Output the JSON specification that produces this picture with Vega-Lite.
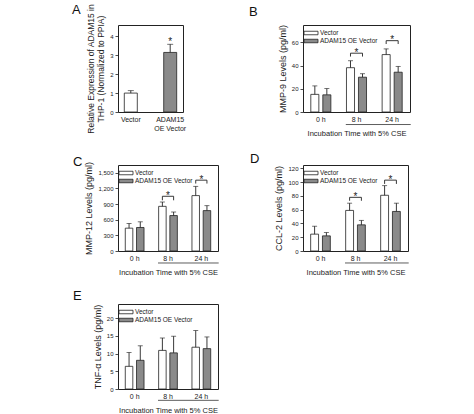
{
  "$schema": "https://vega.github.io/schema/vega-lite/v6.json",
  "padding": {"left": 71, "top": 3, "right": 5, "bottom": 3},
  "bounds": "flush",
  "columns": 2,
  "spacing": {"row": 53, "column": 85},
  "resolve": {"scale": {"fill": "independent", "x": "independent", "y": "independent", "xOffset": "independent"}, "legend": {"fill": "independent"}},
  "datasets": {
    "bars": [
      {"p": "A", "t": "Vector", "g": "Vector", "m": 1.0, "u": 1.13},
      {"p": "A", "t": "ADAM15 OE Vector", "g": "ADAM15 OE Vector", "m": 3.15, "u": 3.58},
      {"p": "B", "t": "0 h", "g": "Vector", "m": 15.2, "u": 22.5},
      {"p": "B", "t": "0 h", "g": "ADAM15 OE Vector", "m": 14.8, "u": 20.2},
      {"p": "B", "t": "8 h", "g": "Vector", "m": 38.2, "u": 44.2},
      {"p": "B", "t": "8 h", "g": "ADAM15 OE Vector", "m": 30.0, "u": 33.0},
      {"p": "B", "t": "24 h", "g": "Vector", "m": 49.5, "u": 54.4},
      {"p": "B", "t": "24 h", "g": "ADAM15 OE Vector", "m": 34.3, "u": 39.3},
      {"p": "C", "t": "0 h", "g": "Vector", "m": 438, "u": 528},
      {"p": "C", "t": "0 h", "g": "ADAM15 OE Vector", "m": 451, "u": 560},
      {"p": "C", "t": "8 h", "g": "Vector", "m": 857, "u": 940},
      {"p": "C", "t": "8 h", "g": "ADAM15 OE Vector", "m": 680, "u": 748},
      {"p": "C", "t": "24 h", "g": "Vector", "m": 1063, "u": 1240},
      {"p": "C", "t": "24 h", "g": "ADAM15 OE Vector", "m": 775, "u": 870},
      {"p": "D", "t": "0 h", "g": "Vector", "m": 24.5, "u": 36},
      {"p": "D", "t": "0 h", "g": "ADAM15 OE Vector", "m": 22, "u": 26.8},
      {"p": "D", "t": "8 h", "g": "Vector", "m": 59, "u": 69.5},
      {"p": "D", "t": "8 h", "g": "ADAM15 OE Vector", "m": 38, "u": 44.5},
      {"p": "D", "t": "24 h", "g": "Vector", "m": 81, "u": 95},
      {"p": "D", "t": "24 h", "g": "ADAM15 OE Vector", "m": 57.5, "u": 69.5},
      {"p": "E", "t": "0 h", "g": "Vector", "m": 6.4, "u": 10.3},
      {"p": "E", "t": "0 h", "g": "ADAM15 OE Vector", "m": 8.1, "u": 12.2},
      {"p": "E", "t": "8 h", "g": "Vector", "m": 10.9, "u": 14.4},
      {"p": "E", "t": "8 h", "g": "ADAM15 OE Vector", "m": 10.2, "u": 14.9},
      {"p": "E", "t": "24 h", "g": "Vector", "m": 11.8, "u": 16.5},
      {"p": "E", "t": "24 h", "g": "ADAM15 OE Vector", "m": 11.4, "u": 14.7}
    ],
    "brackets": [
      {"p": "B", "t": "8 h", "g": "Vector", "y": 47.8, "k": 0},
      {"p": "B", "t": "8 h", "g": "Vector", "y": 50.7, "k": 1},
      {"p": "B", "t": "8 h", "g": "ADAM15 OE Vector", "y": 50.7, "k": 2},
      {"p": "B", "t": "8 h", "g": "ADAM15 OE Vector", "y": 47.8, "k": 3},
      {"p": "B", "t": "24 h", "g": "Vector", "y": 58.6, "k": 0},
      {"p": "B", "t": "24 h", "g": "Vector", "y": 61.5, "k": 1},
      {"p": "B", "t": "24 h", "g": "ADAM15 OE Vector", "y": 61.5, "k": 2},
      {"p": "B", "t": "24 h", "g": "ADAM15 OE Vector", "y": 58.6, "k": 3},
      {"p": "C", "t": "8 h", "g": "Vector", "y": 973, "k": 0},
      {"p": "C", "t": "8 h", "g": "Vector", "y": 1050, "k": 1},
      {"p": "C", "t": "8 h", "g": "ADAM15 OE Vector", "y": 1050, "k": 2},
      {"p": "C", "t": "8 h", "g": "ADAM15 OE Vector", "y": 973, "k": 3},
      {"p": "C", "t": "24 h", "g": "Vector", "y": 1294, "k": 0},
      {"p": "C", "t": "24 h", "g": "Vector", "y": 1359, "k": 1},
      {"p": "C", "t": "24 h", "g": "ADAM15 OE Vector", "y": 1359, "k": 2},
      {"p": "C", "t": "24 h", "g": "ADAM15 OE Vector", "y": 1294, "k": 3},
      {"p": "D", "t": "8 h", "g": "Vector", "y": 73, "k": 0},
      {"p": "D", "t": "8 h", "g": "Vector", "y": 78, "k": 1},
      {"p": "D", "t": "8 h", "g": "ADAM15 OE Vector", "y": 78, "k": 2},
      {"p": "D", "t": "8 h", "g": "ADAM15 OE Vector", "y": 73, "k": 3},
      {"p": "D", "t": "24 h", "g": "Vector", "y": 97.5, "k": 0},
      {"p": "D", "t": "24 h", "g": "Vector", "y": 103, "k": 1},
      {"p": "D", "t": "24 h", "g": "ADAM15 OE Vector", "y": 103, "k": 2},
      {"p": "D", "t": "24 h", "g": "ADAM15 OE Vector", "y": 97.5, "k": 3}
    ],
    "stars": [
      {"p": "A", "t": "ADAM15 OE Vector", "y": 3.7},
      {"p": "B", "t": "8 h", "y": 50.7},
      {"p": "B", "t": "24 h", "y": 61.5},
      {"p": "C", "t": "8 h", "y": 1050},
      {"p": "C", "t": "24 h", "y": 1359},
      {"p": "D", "t": "8 h", "y": 78},
      {"p": "D", "t": "24 h", "y": 103}
    ]
  },
  "concat": [
    {
      "title": {"text": "A", "dx": -46, "offset": -13},
      "width": 65, "height": 87,
      "layer": [
        {"data": {"name": "bars"}, "transform": [{"filter": "datum.p == 'A'"}],
         "mark": {"type": "bar", "stroke": "#222", "strokeWidth": 0.8},
         "encoding": {
           "x": {"field": "t", "type": "nominal", "title": null, "scale": {"domain": ["Vector", "ADAM15 OE Vector"], "paddingInner": 0.67, "paddingOuter": 0.16},
                 "axis": {"labelExpr": "datum.value == 'ADAM15 OE Vector' ? ['ADAM15', 'OE Vector'] : datum.value", "labelLineHeight": 9}},
           "y": {"field": "m", "type": "quantitative", "title": ["Relative Expression of ADAM15 in", "THP-1 (Normalized to PPIA)"], "scale": {"domain": [0, 4.6], "nice": false},
                 "axis": {"values": [0, 1, 2, 3, 4], "labelOverlap": false, "titleFontSize": 8.5, "titleLineHeight": 10}},
           "fill": {"field": "g", "type": "nominal", "scale": {"domain": ["Vector", "ADAM15 OE Vector"], "range": ["#ffffff", "#8a8a8a"]}, "legend": null}
         }},
        {"data": {"name": "bars"}, "transform": [{"filter": "datum.p == 'A'"}],
         "mark": {"type": "rule", "stroke": "#222", "strokeWidth": 0.9},
         "encoding": {
           "x": {"field": "t", "type": "nominal", "title": null, "axis": {"labelExpr": "datum.value == 'ADAM15 OE Vector' ? ['ADAM15', 'OE Vector'] : datum.value", "labelLineHeight": 9}},
           "y": {"field": "m", "type": "quantitative", "title": ["Relative Expression of ADAM15 in", "THP-1 (Normalized to PPIA)"], "axis": {"values": [0, 1, 2, 3, 4], "labelOverlap": false, "titleFontSize": 8.5, "titleLineHeight": 10}},
           "y2": {"field": "u"}
         }},
        {"data": {"name": "bars"}, "transform": [{"filter": "datum.p == 'A'"}],
         "mark": {"type": "tick", "color": "#222", "size": 6, "thickness": 0.9},
         "encoding": {
           "x": {"field": "t", "type": "nominal", "title": null, "axis": {"labelExpr": "datum.value == 'ADAM15 OE Vector' ? ['ADAM15', 'OE Vector'] : datum.value", "labelLineHeight": 9}},
           "y": {"field": "u", "type": "quantitative", "title": ["Relative Expression of ADAM15 in", "THP-1 (Normalized to PPIA)"], "axis": {"values": [0, 1, 2, 3, 4], "labelOverlap": false, "titleFontSize": 8.5, "titleLineHeight": 10}}
         }},
        {"data": {"name": "stars"}, "transform": [{"filter": "datum.p == 'A'"}],
         "mark": {"type": "text", "text": "*", "fontSize": 10, "baseline": "alphabetic", "dy": 2.5, "color": "#222"},
         "encoding": {
           "x": {"field": "t", "type": "nominal", "title": null, "axis": {"labelExpr": "datum.value == 'ADAM15 OE Vector' ? ['ADAM15', 'OE Vector'] : datum.value", "labelLineHeight": 9}},
           "y": {"field": "y", "type": "quantitative", "title": ["Relative Expression of ADAM15 in", "THP-1 (Normalized to PPIA)"], "axis": {"values": [0, 1, 2, 3, 4], "labelOverlap": false, "titleFontSize": 8.5, "titleLineHeight": 10}}
         }}
      ]
    },
    {
      "title": {"text": "B", "dx": -54, "offset": 5},
      "width": 107, "height": 87,
      "layer": [
        {"data": {"name": "bars"}, "transform": [{"filter": "datum.p == 'B'"}],
         "mark": {"type": "bar", "stroke": "#222", "strokeWidth": 0.8},
         "encoding": {
           "x": {"field": "t", "type": "nominal", "title": "Incubation Time with 5% CSE", "scale": {"domain": ["0 h", "8 h", "24 h"], "paddingInner": 0, "paddingOuter": 0}},
           "xOffset": {"field": "g", "type": "nominal", "scale": {"domain": ["Vector", "ADAM15 OE Vector"], "paddingInner": 0.33, "paddingOuter": 0.65}},
           "y": {"field": "m", "type": "quantitative", "title": "MMP-9 Levels (pg/ml)", "scale": {"domain": [0, 75], "nice": false}, "axis": {"values": [0, 20, 40, 60], "labelOverlap": false}},
           "fill": {"field": "g", "type": "nominal", "title": null, "scale": {"domain": ["Vector", "ADAM15 OE Vector"], "range": ["#ffffff", "#8a8a8a"]}}
         }},
        {"data": {"name": "bars"}, "transform": [{"filter": "datum.p == 'B'"}],
         "mark": {"type": "rule", "stroke": "#222", "strokeWidth": 0.9},
         "encoding": {
           "x": {"field": "t", "type": "nominal", "title": "Incubation Time with 5% CSE"},
           "xOffset": {"field": "g", "type": "nominal"},
           "y": {"field": "m", "type": "quantitative", "title": "MMP-9 Levels (pg/ml)", "axis": {"values": [0, 20, 40, 60], "labelOverlap": false}},
           "y2": {"field": "u"}
         }},
        {"data": {"name": "bars"}, "transform": [{"filter": "datum.p == 'B'"}],
         "mark": {"type": "tick", "color": "#222", "size": 5, "thickness": 0.9},
         "encoding": {
           "x": {"field": "t", "type": "nominal", "title": "Incubation Time with 5% CSE"},
           "xOffset": {"field": "g", "type": "nominal"},
           "y": {"field": "u", "type": "quantitative", "title": "MMP-9 Levels (pg/ml)", "axis": {"values": [0, 20, 40, 60], "labelOverlap": false}}
         }},
        {"data": {"name": "brackets"}, "transform": [{"filter": "datum.p == 'B'"}],
         "mark": {"type": "line", "color": "#222", "strokeWidth": 0.9},
         "encoding": {
           "x": {"field": "t", "type": "nominal", "title": "Incubation Time with 5% CSE"},
           "xOffset": {"field": "g", "type": "nominal"},
           "y": {"field": "y", "type": "quantitative", "title": "MMP-9 Levels (pg/ml)", "axis": {"values": [0, 20, 40, 60], "labelOverlap": false}},
           "order": {"field": "k"},
           "detail": {"field": "t"}
         }},
        {"data": {"name": "stars"}, "transform": [{"filter": "datum.p == 'B'"}],
         "mark": {"type": "text", "text": "*", "fontSize": 10, "baseline": "alphabetic", "dy": 2.5, "color": "#222"},
         "encoding": {
           "x": {"field": "t", "type": "nominal", "title": "Incubation Time with 5% CSE"},
           "y": {"field": "y", "type": "quantitative", "title": "MMP-9 Levels (pg/ml)", "axis": {"values": [0, 20, 40, 60], "labelOverlap": false}}
         }},
        {"data": {"values": [{}]},
         "mark": {"type": "rule", "stroke": "#333", "strokeWidth": 0.8},
         "encoding": {
           "x": {"datum": "8 h", "bandPosition": 0.2, "title": "Incubation Time with 5% CSE"},
           "x2": {"datum": "24 h", "bandPosition": 1.02},
           "y": {"datum": -10.8, "title": "MMP-9 Levels (pg/ml)", "axis": {"values": [0, 20, 40, 60], "labelOverlap": false}}
         }}
      ]
    },
    {
      "title": {"text": "C", "dx": -45, "offset": -8},
      "width": 100, "height": 86,
      "layer": [
        {"data": {"name": "bars"}, "transform": [{"filter": "datum.p == 'C'"}],
         "mark": {"type": "bar", "stroke": "#222", "strokeWidth": 0.8},
         "encoding": {
           "x": {"field": "t", "type": "nominal", "title": "Incubation Time with 5% CSE", "scale": {"domain": ["0 h", "8 h", "24 h"], "paddingInner": 0, "paddingOuter": 0}},
           "xOffset": {"field": "g", "type": "nominal", "scale": {"domain": ["Vector", "ADAM15 OE Vector"], "paddingInner": 0.33, "paddingOuter": 0.65}},
           "y": {"field": "m", "type": "quantitative", "title": "MMP-12 Levels (pg/ml)", "scale": {"domain": [0, 1650], "nice": false}, "axis": {"values": [0, 300, 600, 900, 1200, 1500], "labelOverlap": false}},
           "fill": {"field": "g", "type": "nominal", "title": null, "scale": {"domain": ["Vector", "ADAM15 OE Vector"], "range": ["#ffffff", "#8a8a8a"]}}
         }},
        {"data": {"name": "bars"}, "transform": [{"filter": "datum.p == 'C'"}],
         "mark": {"type": "rule", "stroke": "#222", "strokeWidth": 0.9},
         "encoding": {
           "x": {"field": "t", "type": "nominal", "title": "Incubation Time with 5% CSE"},
           "xOffset": {"field": "g", "type": "nominal"},
           "y": {"field": "m", "type": "quantitative", "title": "MMP-12 Levels (pg/ml)", "axis": {"values": [0, 300, 600, 900, 1200, 1500], "labelOverlap": false}},
           "y2": {"field": "u"}
         }},
        {"data": {"name": "bars"}, "transform": [{"filter": "datum.p == 'C'"}],
         "mark": {"type": "tick", "color": "#222", "size": 5, "thickness": 0.9},
         "encoding": {
           "x": {"field": "t", "type": "nominal", "title": "Incubation Time with 5% CSE"},
           "xOffset": {"field": "g", "type": "nominal"},
           "y": {"field": "u", "type": "quantitative", "title": "MMP-12 Levels (pg/ml)", "axis": {"values": [0, 300, 600, 900, 1200, 1500], "labelOverlap": false}}
         }},
        {"data": {"name": "brackets"}, "transform": [{"filter": "datum.p == 'C'"}],
         "mark": {"type": "line", "color": "#222", "strokeWidth": 0.9},
         "encoding": {
           "x": {"field": "t", "type": "nominal", "title": "Incubation Time with 5% CSE"},
           "xOffset": {"field": "g", "type": "nominal"},
           "y": {"field": "y", "type": "quantitative", "title": "MMP-12 Levels (pg/ml)", "axis": {"values": [0, 300, 600, 900, 1200, 1500], "labelOverlap": false}},
           "order": {"field": "k"},
           "detail": {"field": "t"}
         }},
        {"data": {"name": "stars"}, "transform": [{"filter": "datum.p == 'C'"}],
         "mark": {"type": "text", "text": "*", "fontSize": 10, "baseline": "alphabetic", "dy": 2.5, "color": "#222"},
         "encoding": {
           "x": {"field": "t", "type": "nominal", "title": "Incubation Time with 5% CSE"},
           "y": {"field": "y", "type": "quantitative", "title": "MMP-12 Levels (pg/ml)", "axis": {"values": [0, 300, 600, 900, 1200, 1500], "labelOverlap": false}}
         }},
        {"data": {"values": [{}]},
         "mark": {"type": "rule", "stroke": "#333", "strokeWidth": 0.8},
         "encoding": {
           "x": {"datum": "8 h", "bandPosition": 0.2, "title": "Incubation Time with 5% CSE"},
           "x2": {"datum": "24 h", "bandPosition": 1.02},
           "y": {"datum": -230, "title": "MMP-12 Levels (pg/ml)", "axis": {"values": [0, 300, 600, 900, 1200, 1500], "labelOverlap": false}}
         }}
      ]
    },
    {
      "title": {"text": "D", "dx": -53, "offset": -1},
      "width": 105, "height": 86,
      "layer": [
        {"data": {"name": "bars"}, "transform": [{"filter": "datum.p == 'D'"}],
         "mark": {"type": "bar", "stroke": "#222", "strokeWidth": 0.8},
         "encoding": {
           "x": {"field": "t", "type": "nominal", "title": "Incubation Time with 5% CSE", "scale": {"domain": ["0 h", "8 h", "24 h"], "paddingInner": 0, "paddingOuter": 0}},
           "xOffset": {"field": "g", "type": "nominal", "scale": {"domain": ["Vector", "ADAM15 OE Vector"], "paddingInner": 0.33, "paddingOuter": 0.65}},
           "y": {"field": "m", "type": "quantitative", "title": "CCL-2 Levels (pg/ml)", "scale": {"domain": [0, 125], "nice": false}, "axis": {"values": [0, 20, 40, 60, 80, 100, 120], "labelOverlap": false}},
           "fill": {"field": "g", "type": "nominal", "title": null, "scale": {"domain": ["Vector", "ADAM15 OE Vector"], "range": ["#ffffff", "#8a8a8a"]}}
         }},
        {"data": {"name": "bars"}, "transform": [{"filter": "datum.p == 'D'"}],
         "mark": {"type": "rule", "stroke": "#222", "strokeWidth": 0.9},
         "encoding": {
           "x": {"field": "t", "type": "nominal", "title": "Incubation Time with 5% CSE"},
           "xOffset": {"field": "g", "type": "nominal"},
           "y": {"field": "m", "type": "quantitative", "title": "CCL-2 Levels (pg/ml)", "axis": {"values": [0, 20, 40, 60, 80, 100, 120], "labelOverlap": false}},
           "y2": {"field": "u"}
         }},
        {"data": {"name": "bars"}, "transform": [{"filter": "datum.p == 'D'"}],
         "mark": {"type": "tick", "color": "#222", "size": 5, "thickness": 0.9},
         "encoding": {
           "x": {"field": "t", "type": "nominal", "title": "Incubation Time with 5% CSE"},
           "xOffset": {"field": "g", "type": "nominal"},
           "y": {"field": "u", "type": "quantitative", "title": "CCL-2 Levels (pg/ml)", "axis": {"values": [0, 20, 40, 60, 80, 100, 120], "labelOverlap": false}}
         }},
        {"data": {"name": "brackets"}, "transform": [{"filter": "datum.p == 'D'"}],
         "mark": {"type": "line", "color": "#222", "strokeWidth": 0.9},
         "encoding": {
           "x": {"field": "t", "type": "nominal", "title": "Incubation Time with 5% CSE"},
           "xOffset": {"field": "g", "type": "nominal"},
           "y": {"field": "y", "type": "quantitative", "title": "CCL-2 Levels (pg/ml)", "axis": {"values": [0, 20, 40, 60, 80, 100, 120], "labelOverlap": false}},
           "order": {"field": "k"},
           "detail": {"field": "t"}
         }},
        {"data": {"name": "stars"}, "transform": [{"filter": "datum.p == 'D'"}],
         "mark": {"type": "text", "text": "*", "fontSize": 10, "baseline": "alphabetic", "dy": 2.5, "color": "#222"},
         "encoding": {
           "x": {"field": "t", "type": "nominal", "title": "Incubation Time with 5% CSE"},
           "y": {"field": "y", "type": "quantitative", "title": "CCL-2 Levels (pg/ml)", "axis": {"values": [0, 20, 40, 60, 80, 100, 120], "labelOverlap": false}}
         }},
        {"data": {"values": [{}]},
         "mark": {"type": "rule", "stroke": "#333", "strokeWidth": 0.8},
         "encoding": {
           "x": {"datum": "8 h", "bandPosition": 0.2, "title": "Incubation Time with 5% CSE"},
           "x2": {"datum": "24 h", "bandPosition": 1.02},
           "y": {"datum": -17.4, "title": "CCL-2 Levels (pg/ml)", "axis": {"values": [0, 20, 40, 60, 80, 100, 120], "labelOverlap": false}}
         }}
      ]
    },
    {
      "title": {"text": "E", "dx": -45, "offset": 1},
      "width": 100, "height": 85,
      "layer": [
        {"data": {"name": "bars"}, "transform": [{"filter": "datum.p == 'E'"}],
         "mark": {"type": "bar", "stroke": "#222", "strokeWidth": 0.8},
         "encoding": {
           "x": {"field": "t", "type": "nominal", "title": "Incubation Time with 5% CSE", "scale": {"domain": ["0 h", "8 h", "24 h"], "paddingInner": 0, "paddingOuter": 0}},
           "xOffset": {"field": "g", "type": "nominal", "scale": {"domain": ["Vector", "ADAM15 OE Vector"], "paddingInner": 0.33, "paddingOuter": 0.65}},
           "y": {"field": "m", "type": "quantitative", "title": "TNF-α Levels (pg/ml)", "scale": {"domain": [0, 24], "nice": false}, "axis": {"values": [0, 5, 10, 15, 20], "labelOverlap": false}},
           "fill": {"field": "g", "type": "nominal", "title": null, "scale": {"domain": ["Vector", "ADAM15 OE Vector"], "range": ["#ffffff", "#8a8a8a"]}}
         }},
        {"data": {"name": "bars"}, "transform": [{"filter": "datum.p == 'E'"}],
         "mark": {"type": "rule", "stroke": "#222", "strokeWidth": 0.9},
         "encoding": {
           "x": {"field": "t", "type": "nominal", "title": "Incubation Time with 5% CSE"},
           "xOffset": {"field": "g", "type": "nominal"},
           "y": {"field": "m", "type": "quantitative", "title": "TNF-α Levels (pg/ml)", "axis": {"values": [0, 5, 10, 15, 20], "labelOverlap": false}},
           "y2": {"field": "u"}
         }},
        {"data": {"name": "bars"}, "transform": [{"filter": "datum.p == 'E'"}],
         "mark": {"type": "tick", "color": "#222", "size": 5, "thickness": 0.9},
         "encoding": {
           "x": {"field": "t", "type": "nominal", "title": "Incubation Time with 5% CSE"},
           "xOffset": {"field": "g", "type": "nominal"},
           "y": {"field": "u", "type": "quantitative", "title": "TNF-α Levels (pg/ml)", "axis": {"values": [0, 5, 10, 15, 20], "labelOverlap": false}}
         }},
        {"data": {"values": [{}]},
         "mark": {"type": "rule", "stroke": "#333", "strokeWidth": 0.8},
         "encoding": {
           "x": {"datum": "8 h", "bandPosition": 0.2, "title": "Incubation Time with 5% CSE"},
           "x2": {"datum": "24 h", "bandPosition": 1.02},
           "y": {"datum": -3.2, "title": "TNF-α Levels (pg/ml)", "axis": {"values": [0, 5, 10, 15, 20], "labelOverlap": false}}
         }}
      ]
    }
  ],
  "config": {
    "font": "Liberation Sans",
    "background": "#ffffff",
    "view": {"stroke": "#222", "strokeWidth": 1},
    "title": {"fontSize": 13, "fontWeight": "normal", "anchor": "start", "frame": "group", "color": "#111", "font": "Liberation Sans"},
    "axis": {"labelFont": "Liberation Sans", "titleFont": "Liberation Sans", "labelColor": "#222", "titleColor": "#222", "titleFontWeight": "normal", "grid": false, "domain": false, "tickColor": "#222", "tickSize": 3, "tickWidth": 0.8, "labelOverlap": false},
    "axisX": {"ticks": false, "labelAngle": 0, "labelFontSize": 7, "labelPadding": 3, "titleFontSize": 7.5, "titlePadding": 7},
    "axisY": {"labelFontSize": 6, "titleFontSize": 9, "labelPadding": 2, "titlePadding": 4, "labelFlush": false, "labelOverlap": false},
    "legend": {"orient": "top-left", "offset": 4, "padding": 0, "symbolType": "M-2,-0.5H2V0.5H-2Z", "symbolSize": 49, "symbolStrokeColor": "#222", "symbolStrokeWidth": 0.8, "labelFontSize": 6.5, "labelOffset": 5, "rowPadding": 0, "labelFont": "Liberation Sans", "labelColor": "#222"}
  }
}
